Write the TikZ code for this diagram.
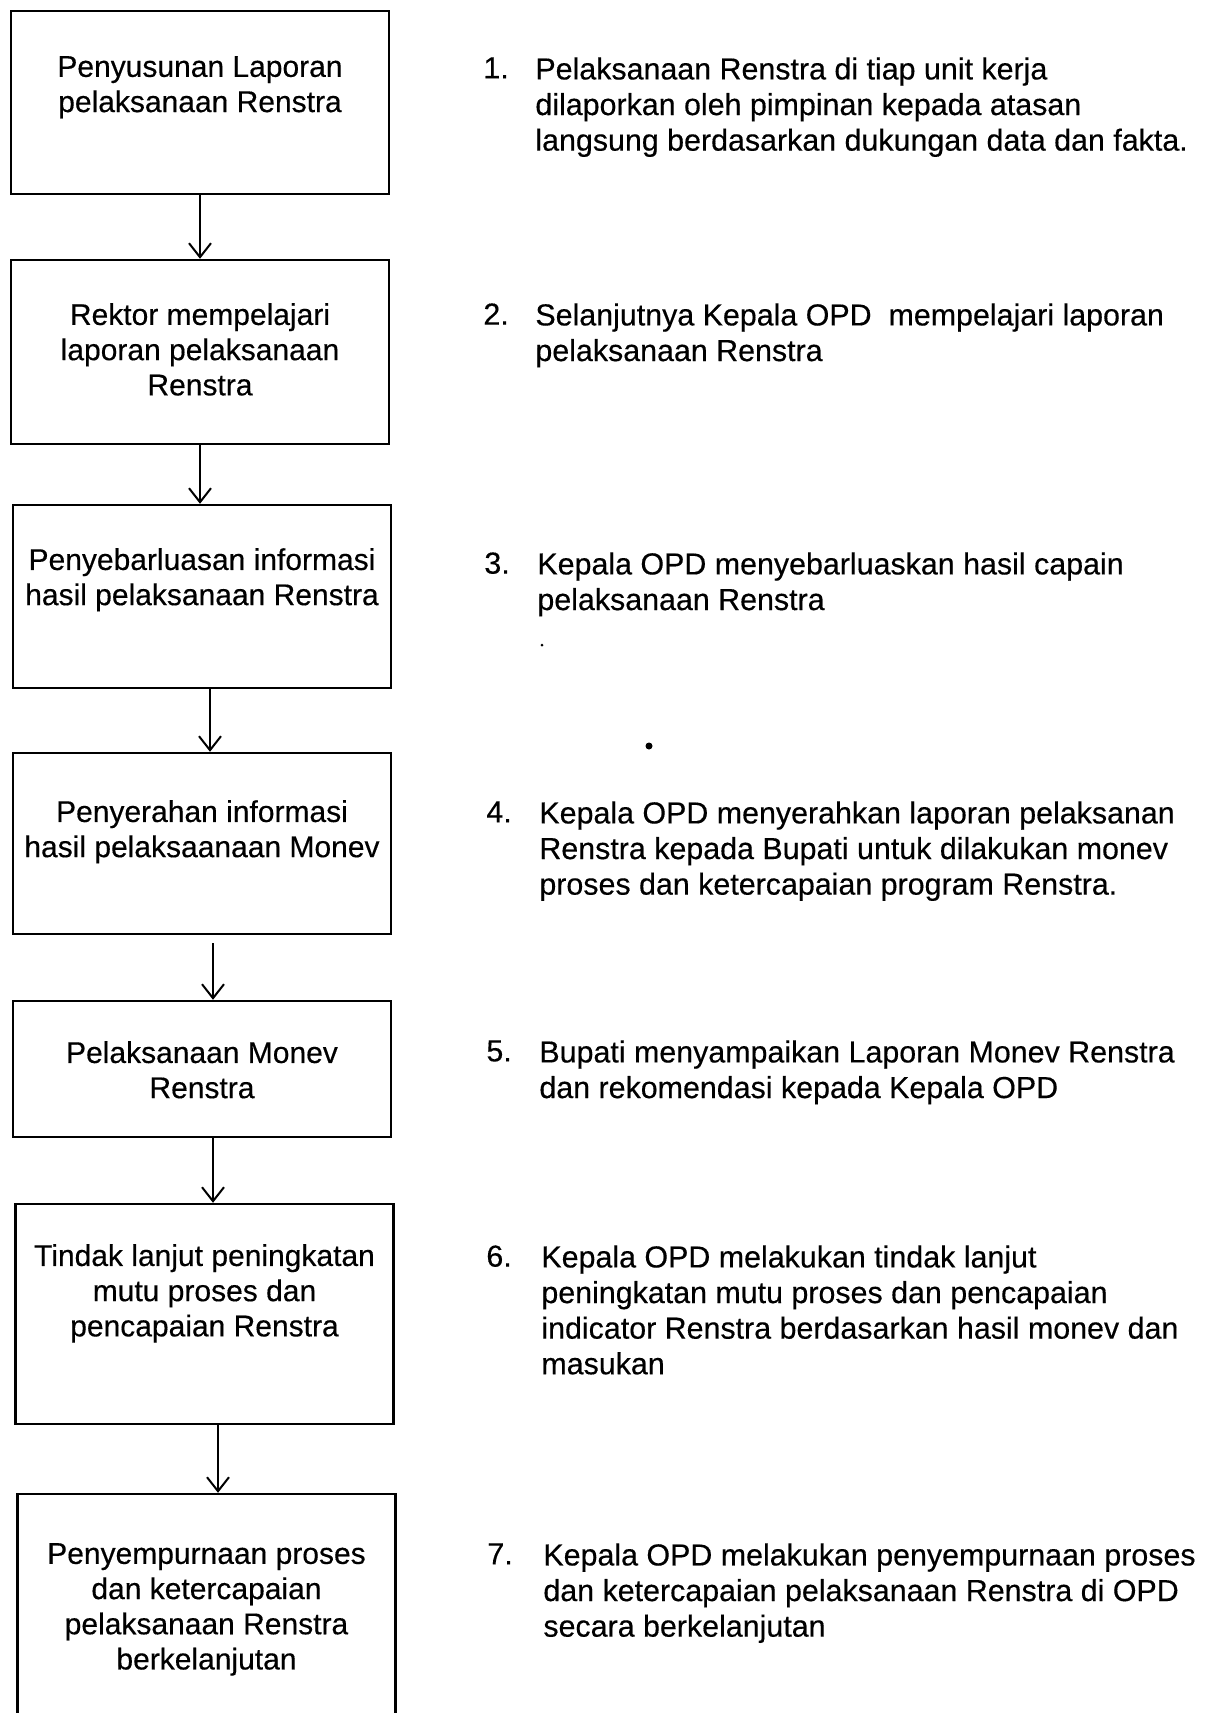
\documentclass[tikz,border=0pt]{standalone}
\usepackage{fontspec}
\setmainfont{Liberation Sans}
\newfontfamily\scanfont{Liberation Sans}[FakeBold=0.35]
\usetikzlibrary{arrows.meta, positioning}

\tikzset{
  stepbox/.style={draw, line width=1.2pt, minimum width=189pt, inner sep=0pt},
  boxtext/.style={align=center, inner sep=0pt, font=\scanfont\fontsize{15}{17.6}\selectfont},
  stepnum/.style={anchor=north west, inner sep=0pt, font=\scanfont\fontsize{15.2}{17.8}\selectfont},
  steptext/.style={anchor=north west, align=left, inner sep=0pt, font=\scanfont\fontsize{15.2}{17.8}\selectfont},
  flow/.style={line width=1pt, -{Straight Barb[length=7pt, width=11pt, line width=1pt]}}
}

\begin{document}
\begin{tikzpicture}[x=0.5pt, y=-0.5pt]
  \useasboundingbox (0,0) rectangle (1205,1713);
  \clip (0,0) rectangle (1205,1713);

  % Boxes
  \node[stepbox, minimum height=91.5pt] (b1) at (200,102.5) {};
  \node[stepbox, minimum height=92pt]   (b2) at (200,352) {};
  \node[stepbox, minimum height=91.5pt] (b3) at (202,596.5) {};
  \node[stepbox, minimum height=90.5pt] (b4) at (202,843.5) {};
  \node[stepbox, minimum height=68pt]   (b5) at (202,1069) {};
  \node[stepbox, minimum height=110pt]  (b6) at (204.5,1314) {};
  \node[stepbox, minimum height=150pt]  (b7) at (206.5,1644) {};

  % Box texts
  \node[boxtext, below=23pt of b1.north] (t1) {Penyusunan Laporan\\pelaksanaan Renstra};
  \node[boxtext, below=22pt of b2.north] (t2) {Rektor mempelajari\\laporan pelaksanaan\\Renstra};
  \node[boxtext, below=22pt of b3.north] (t3) {Penyebarluasan informasi\\hasil pelaksanaan Renstra};
  \node[boxtext, below=24pt of b4.north] (t4) {Penyerahan informasi\\hasil pelaksaanaan Monev};
  \node[boxtext, below=20.5pt of b5.north] (t5) {Pelaksanaan Monev\\Renstra};
  \node[boxtext, below=20.5pt of b6.north] (t6) {Tindak lanjut peningkatan\\mutu proses dan\\pencapaian Renstra};
  \node[boxtext, below=25pt of b7.north] (t7) {Penyempurnaan proses\\dan ketercapaian\\pelaksanaan Renstra\\berkelanjutan};

  % Arrows
  \draw[flow] (b1.south) -- (b1.south |- b2.north);
  \draw[flow] (b2.south) -- (b2.south |- b3.north);
  \draw[flow] ([xshift=4pt]b3.south) -- ([xshift=4pt]b3.south |- b4.north);
  \draw[flow] ([xshift=5.5pt, yshift=-4pt]b4.south) -- ([xshift=5.5pt]b4.south |- b5.north);
  \draw[flow] ([xshift=5.5pt]b5.south) -- ([xshift=5.5pt]b5.south |- b6.north);
  \draw[flow] ([xshift=6.75pt]b6.south) -- ([xshift=6.75pt]b6.south |- b7.north);

  % Descriptions
  \node[stepnum] (n1) at (483,57) {1.};
  \node[steptext] (d1) at (535,57) {Pelaksanaan Renstra di tiap unit kerja\\dilaporkan oleh pimpinan kepada atasan\\langsung berdasarkan dukungan data dan fakta.};
  \node[stepnum] (n2) at (483,303) {2.};
  \node[steptext] (d2) at (535,303) {Selanjutnya Kepala OPD\ \ mempelajari laporan\\pelaksanaan Renstra};
  \node[stepnum] (n3) at (484,552) {3.};
  \node[steptext] (d3) at (537,552) {Kepala OPD menyebarluaskan hasil capain\\pelaksanaan Renstra};
  \node[stepnum] (n4) at (486,801) {4.};
  \node[steptext] (d4) at (539,801) {Kepala OPD menyerahkan laporan pelaksanan\\Renstra kepada Bupati untuk dilakukan monev\\proses dan ketercapaian program Renstra.};
  \node[stepnum] (n5) at (486,1040) {5.};
  \node[steptext] (d5) at (539,1040) {Bupati menyampaikan Laporan Monev Renstra\\dan rekomendasi kepada Kepala OPD};
  \node[stepnum] (n6) at (486,1245) {6.};
  \node[steptext] (d6) at (541,1245) {Kepala OPD melakukan tindak lanjut\\peningkatan mutu proses dan pencapaian\\indicator Renstra berdasarkan hasil monev dan\\masukan};
  \node[stepnum] (n7) at (487,1543) {7.};
  \node[steptext] (d7) at (543,1543) {Kepala OPD melakukan penyempurnaan proses\\dan ketercapaian pelaksanaan Renstra di OPD\\secara berkelanjutan};

  % Stray dots
  \fill (542,645) circle (1.5);
  \fill (649,746) circle (3.5);
\end{tikzpicture}
\end{document}
